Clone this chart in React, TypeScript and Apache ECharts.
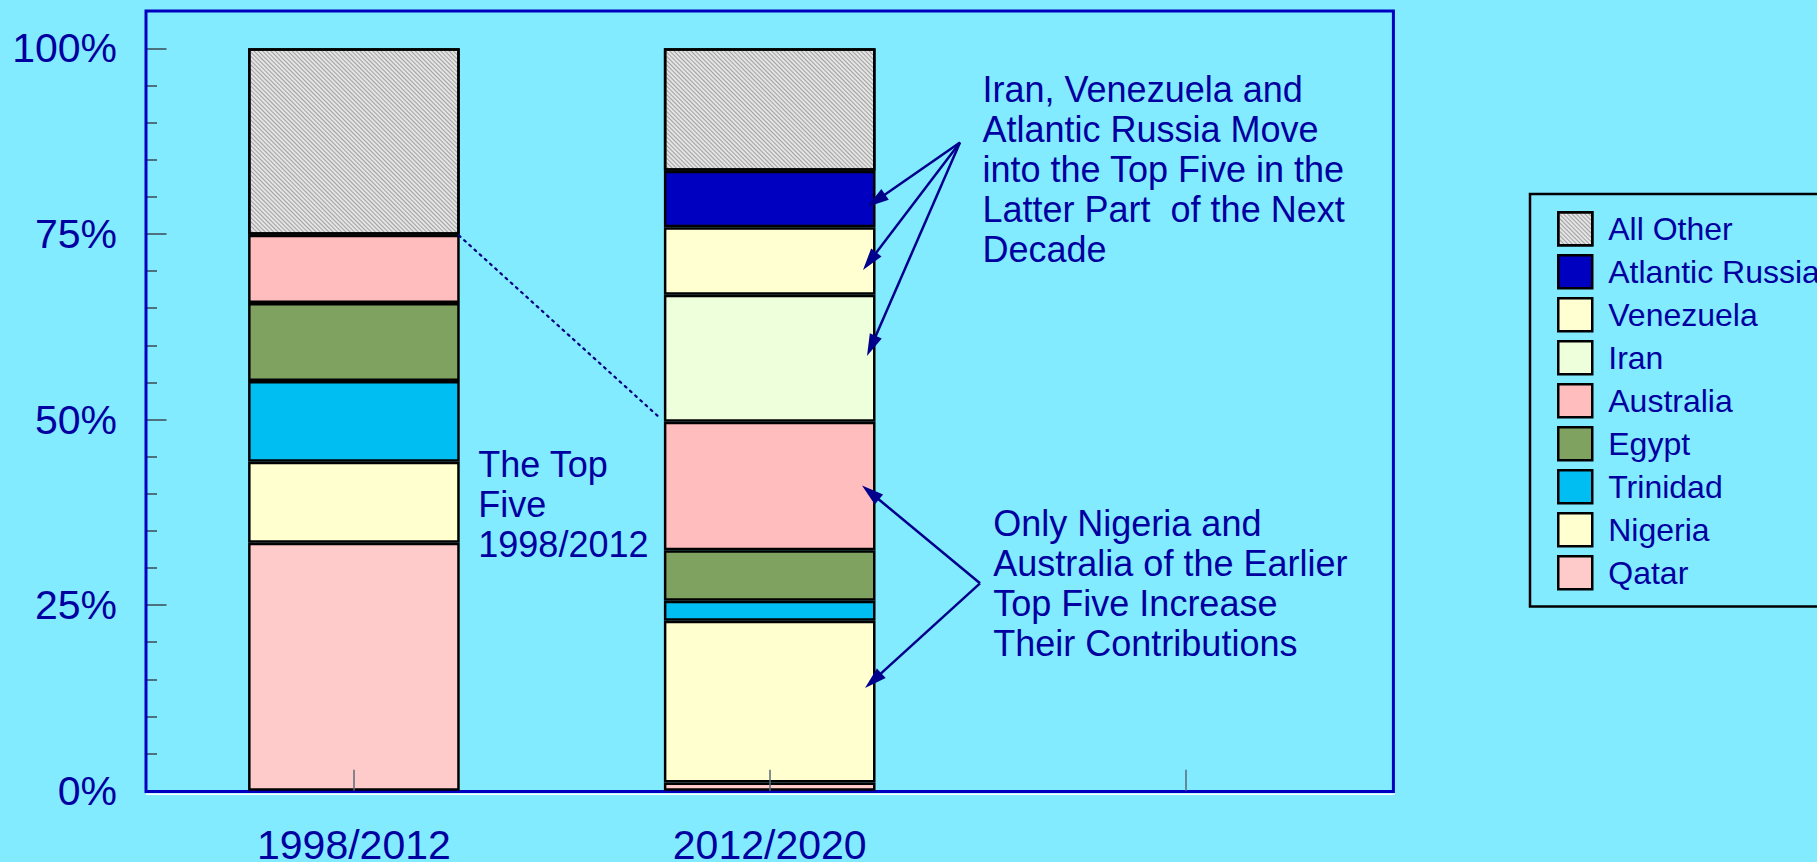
import React, { useEffect, useRef } from 'react';
import * as echarts from 'echarts';

// ---- data ----
const categories = ['1998/2012', '2012/2020', ''];
const yTickValues = [0, 25, 50, 75, 100];

const qatar = [33.4, 1.1, null];
const nigeria = [10.9, 21.8, null];
const trinidad = [10.9, 2.7, null];
const egypt = [10.5, 6.8, null];
const australia = [9.2, 17.3, null];
const iran = [null, 17.1, null];
const venezuela = [null, 9.1, null];
const atlanticRussia = [null, 7.6, null];
const allOther = [25.1, 16.5, null];

const seriesNames = ['Qatar', 'Nigeria', 'Trinidad', 'Egypt', 'Australia', 'Iran', 'Venezuela', 'Atlantic Russia', 'All Other'];
const seriesValues = [qatar, nigeria, trinidad, egypt, australia, iran, venezuela, atlanticRussia, allOther];
const seriesColors = ['#FFCACA', '#FFFFD0', '#00BEF2', '#7FA260', '#FFBDBD', '#EEFFDC', '#FFFFD2', '#0000C0', '#E4E4E4'];
const legendOrder = ['All Other', 'Atlantic Russia', 'Venezuela', 'Iran', 'Australia', 'Egypt', 'Trinidad', 'Nigeria', 'Qatar'];

const annoTop = ['Iran, Venezuela and', 'Atlantic Russia Move', 'into the Top Five in the', 'Latter Part  of the Next', 'Decade'];
const annoBottom = ['Only Nigeria and', 'Australia of the Earlier', 'Top Five Increase', 'Their Contributions'];
const annoMid = ['The Top', 'Five', '1998/2012'];

const FONT = '"Liberation Sans", Arial, Helvetica, sans-serif';
const TEXT = '#0000A0';
const ARROW = '#00008C';

function arrow(x1: number, y1: number, x2: number, y2: number) {
  const dx = x2 - x1;
  const dy = y2 - y1;
  const len = Math.sqrt(dx * dx + dy * dy);
  const ux = dx / len;
  const uy = dy / len;
  const hl = 22;
  const hw = 6.5;
  const bx = x2 - ux * hl;
  const by = y2 - uy * hl;
  return [
    {
      type: 'line',
      shape: { x1, y1, x2: bx + ux * 4, y2: by + uy * 4 },
      style: { stroke: ARROW, lineWidth: 2.5 },
      z: 10,
    },
    {
      type: 'polygon',
      shape: {
        points: [
          [x2, y2],
          [bx - uy * hw, by + ux * hw],
          [bx + uy * hw, by - ux * hw],
        ],
      },
      style: { fill: ARROW },
      z: 10,
    },
  ];
}

function textBlock(x: number, y: number, lines: string[]) {
  return {
    type: 'text',
    x,
    y,
    z: 10,
    style: {
      text: lines.join('\n'),
      fontSize: 36,
      fontFamily: FONT,
      fill: TEXT,
      lineHeight: 40,
      align: 'left',
      verticalAlign: 'top',
    },
  };
}

export default function App() {
  const ref = useRef<HTMLDivElement>(null);

  useEffect(() => {
    document.body.style.margin = '0';
    if (!ref.current) return;
    const chart = echarts.init(ref.current, null, { renderer: 'svg' });

    const series = seriesNames.map((name, i) => {
      const itemStyle: any = {
        color: seriesColors[i],
        borderColor: '#000',
        borderWidth: 2.5,
      };
      if (name === 'All Other') {
        itemStyle.decal = {
          symbol: 'rect',
          symbolSize: 1,
          dashArrayX: [1, 0],
          dashArrayY: [1, 2],
          rotation: Math.PI / 4,
          color: 'rgba(70,70,70,0.42)',
        };
      }
      return {
        name,
        type: 'bar',
        stack: 'total',
        barWidth: '50.9%',
        data: seriesValues[i],
        itemStyle,
        emphasis: { disabled: true },
      };
    });

    const top = [960, 142.5];
    const bot = [980, 583.3];

    const graphic: any[] = [
      {
        type: 'rect',
        shape: { x: 146, y: 11, width: 1247.4, height: 780.5 },
        style: { fill: 'none', stroke: '#0000C0', lineWidth: 3 },
        z: 1,
      },
      {
        type: 'line',
        shape: { x1: 146, y1: 794.2, x2: 1395, y2: 794.2 },
        style: { stroke: '#FFFFFF', lineWidth: 1.5 },
        z: 1,
      },
      {
        type: 'line',
        shape: { x1: 459, y1: 235.5, x2: 660, y2: 418 },
        style: { stroke: '#000080', lineWidth: 2.2, lineDash: [2, 5], lineCap: 'round' },
        z: 10,
      },
      ...arrow(top[0], top[1], 867, 207),
      ...arrow(top[0], top[1], 863, 270),
      ...arrow(top[0], top[1], 867, 356),
      ...arrow(bot[0], bot[1], 862, 485.5),
      ...arrow(bot[0], bot[1], 865, 688),
      textBlock(982.5, 69.2, annoTop),
      textBlock(993.3, 503.5, annoBottom),
      textBlock(478.3, 444.2, annoMid),
    ];

    chart.setOption({
      animation: false,
      backgroundColor: '#82EBFF',
      grid: {
        left: 146,
        right: 1817 - 1393.4,
        top: 48.3,
        bottom: 862 - 790.7,
        outerBoundsMode: 'none',
        containLabel: false,
      },
      legend: {
        orient: 'vertical',
        left: 1530,
        top: 194,
        itemWidth: 34,
        itemHeight: 33,
        itemGap: 7.5,
        padding: [17, 80, 16, 27],
        borderColor: '#000',
        borderWidth: 2.5,
        icon: 'rect',
        selectedMode: false,
        data: legendOrder,
        itemStyle: { borderColor: '#000', borderWidth: 2.5 },
        textStyle: { fontSize: 32, fontFamily: FONT, color: TEXT, padding: [0, 0, 0, 11] },
      },
      xAxis: {
        type: 'category',
        data: categories,
        z: 5,
        axisLine: { show: false },
        axisTick: {
          show: true,
          alignWithLabel: true,
          inside: true,
          length: 21,
          interval: 0,
          lineStyle: { color: '#5A6A78', width: 1.5 },
        },
        axisLabel: {
          fontSize: 41,
          lineHeight: 30,
          fontFamily: FONT,
          color: TEXT,
          margin: 39,
          interval: 0,
        },
        splitLine: { show: false },
      },
      yAxis: {
        type: 'value',
        min: yTickValues[0],
        max: yTickValues[yTickValues.length - 1],
        interval: 25,
        axisLine: { show: false },
        axisTick: { show: true, inside: true, length: 20.5, lineStyle: { color: '#3A4A55', width: 1.5 } },
        minorTick: { show: true, splitNumber: 5, length: 11, lineStyle: { color: '#3A4A55', width: 1.5 } },
        axisLabel: {
          fontSize: 41,
          fontFamily: FONT,
          color: TEXT,
          margin: 29,
          formatter: '{value}%',
        },
        splitLine: { show: false },
      },
      series,
      graphic,
    });

    return () => {
      chart.dispose();
    };
  }, []);

  return (
    <div
      ref={ref}
      style={{ position: 'absolute', left: 0, top: 0, width: 1817, height: 862 }}
    />
  );
}
